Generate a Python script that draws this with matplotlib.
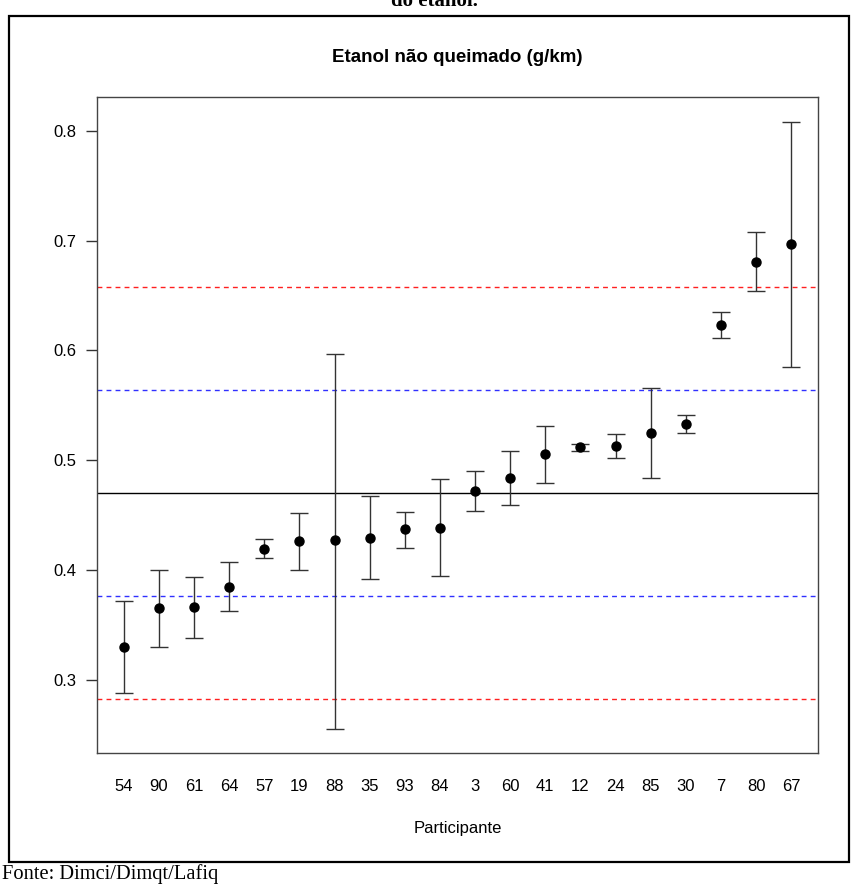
import numpy as np
import matplotlib
matplotlib.use("Agg")
import matplotlib.pyplot as plt
from matplotlib.patches import Rectangle

plt.rcParams['font.family'] = ['Liberation Sans', 'DejaVu Sans']

# dados
participantes = ['54', '90', '61', '64', '57', '19', '88', '35', '93', '84',
                 '3', '60', '41', '12', '24', '85', '30', '7', '80', '67']
media = [0.330, 0.365, 0.366, 0.384, 0.419, 0.426, 0.427, 0.429, 0.437, 0.438,
         0.472, 0.484, 0.506, 0.512, 0.513, 0.525, 0.533, 0.623, 0.681, 0.697]
lim_sup = [0.372, 0.3995, 0.3935, 0.407, 0.428, 0.4515, 0.597, 0.467, 0.453, 0.483,
           0.490, 0.508, 0.531, 0.515, 0.524, 0.566, 0.5415, 0.635, 0.708, 0.8085]
lim_inf = [0.288, 0.330, 0.338, 0.362, 0.4105, 0.400, 0.255, 0.392, 0.420, 0.394,
           0.454, 0.4595, 0.4795, 0.508, 0.502, 0.484, 0.525, 0.611, 0.6545, 0.585]

valor_ref = 0.470
lim_azul = [0.376, 0.564]
lim_vermelho = [0.2825, 0.6575]
yticks = [0.3, 0.4, 0.5, 0.6, 0.7, 0.8]

media = np.array(media)
x = np.arange(1, len(participantes) + 1)
err = [media - np.array(lim_inf), np.array(lim_sup) - media]

fig = plt.figure(figsize=(8.51, 8.86), dpi=100)
ax = fig.add_axes([97 / 851, 133 / 886, 721 / 851, 656 / 886])

# linhas de referencia
ax.axhline(valor_ref, color='black', lw=1.0)
for v in lim_azul:
    ax.axhline(v, color='#3030ff', lw=1.0, ls=(0, (3.5, 3)))
for v in lim_vermelho:
    ax.axhline(v, color='#ff2020', lw=1.0, ls=(0, (3.5, 3)))

ax.errorbar(x, media, yerr=err, fmt='o', color='black', ms=6.5,
            ecolor='#333333', elinewidth=1.0, capsize=6.3, capthick=1.0, zorder=3)

ax.set_xlim(0.24, 20.76)
ax.set_ylim(0.233, 0.831)
ax.set_xticks(x)
ax.set_xticklabels(participantes)
ax.set_yticks(yticks)
ax.set_yticklabels([str(t) for t in yticks])
ax.tick_params(axis='x', length=0, pad=19, labelsize=12)
ax.tick_params(axis='y', length=8, width=1.0, pad=7, labelsize=12, color='#333333')
for s in ax.spines.values():
    s.set_color('#444444')
    s.set_linewidth(1.0)

ax.set_xlabel('Participante', fontsize=12)
ax.xaxis.set_label_coords(0.5, -(828 - 753) / 656)
ax.xaxis.label.set_va('center')
ax.text(0.5, 1 + 40 / 656, 'Etanol não queimado (g/km)', transform=ax.transAxes,
        ha='center', va='center', fontsize=13.5, fontweight='bold')

# moldura e textos da figura
fig.patches.append(Rectangle((9 / 851, 1 - 862 / 886), 840 / 851, 846 / 886,
                             transform=fig.transFigure, fill=False,
                             edgecolor='black', lw=1.6))
fig.text(2 / 851, 1 - 874 / 886, 'Fonte: Dimci/Dimqt/Lafiq', fontsize=14.8,
         family=['Liberation Serif', 'DejaVu Serif'], va='center', ha='left')
fig.text(434 / 851, 1 - 6 / 886, 'do etanol.', fontsize=15, fontweight='bold',
         family=['Liberation Serif', 'DejaVu Serif'], va='baseline', ha='center')

fig.savefig('out.png', dpi=100)
